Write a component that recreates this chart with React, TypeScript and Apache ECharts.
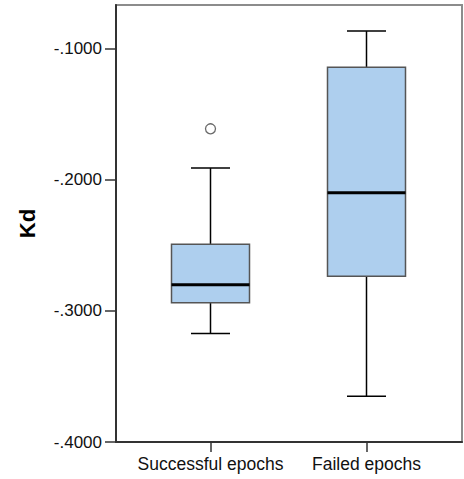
import React, { useEffect, useRef } from "react";
import * as echarts from "echarts";

const categories = ["Successful epochs", "Failed epochs"];
// [lower whisker, Q1, median, Q3, upper whisker]
const successfulBox = [-0.3172, -0.2938, -0.2801, -0.2491, -0.1911];
const failedBox = [-0.3651, -0.2735, -0.2099, -0.1141, -0.0866];
// [category index, value]
const outliers = [[0, -0.1611]];
const yTicks = [-0.4, -0.3, -0.2, -0.1];
const yMin = -0.4;
const yMax = -0.0667;
const yName = "Kd";

const FONT = "'Liberation Sans', Arial, sans-serif";

export default function App() {
  const ref = useRef<HTMLDivElement>(null);
  useEffect(() => {
    if (!ref.current) return;
    const chart = echarts.init(ref.current, undefined, { renderer: "svg" });
    const boxData = [
      [0, ...successfulBox],
      [1, ...failedBox],
    ];
    const fmt = (v: number) => v.toFixed(4).replace("-0.", "-.");
    chart.setOption({
      animation: false,
      backgroundColor: "#ffffff",
      grid: [
        { left: 116, right: 2, top: 5, bottom: 37, show: true, borderColor: "#8c8c8c", borderWidth: 2, backgroundColor: "transparent" },
        { left: 132.5, right: 19.5, top: 5, bottom: 37 },
      ],
      xAxis: [
        {
          gridIndex: 0,
          type: "value",
          min: 0,
          max: 1,
          axisLine: { show: true, onZero: false, lineStyle: { color: "#333", width: 2 } },
          axisTick: { show: false },
          axisLabel: { show: false },
          splitLine: { show: false },
        },
        {
          gridIndex: 1,
          type: "category",
          data: categories,
          boundaryGap: true,
          axisLine: { show: false },
          axisTick: { show: true, alignWithLabel: true, interval: 0, length: 10, lineStyle: { color: "#333", width: 1.5 } },
          axisLabel: { show: true, interval: 0, hideOverlap: false, margin: 13, fontSize: 17.5, fontFamily: FONT, color: "#111" },
          splitLine: { show: false },
        },
      ],
      yAxis: [
        {
          gridIndex: 0,
          type: "value",
          min: yMin,
          max: yMax,
          interval: 0.1,
          name: yName,
          nameLocation: "middle",
          nameRotate: 90,
          nameGap: 78,
          nameTextStyle: { fontSize: 22, fontWeight: "bold", fontFamily: FONT, color: "#000" },
          axisLine: { show: true, lineStyle: { color: "#333", width: 2 } },
          axisTick: { show: true, length: 11, customValues: yTicks, lineStyle: { color: "#333", width: 1.5 } },
          axisLabel: { show: true, margin: 14, customValues: yTicks, formatter: fmt, fontSize: 17, fontFamily: FONT, color: "#111" },
          splitLine: { show: false },
        },
        {
          gridIndex: 1,
          type: "value",
          min: yMin,
          max: yMax,
          show: false,
          splitLine: { show: false },
        },
      ],
      series: [
        {
          type: "custom",
          xAxisIndex: 1,
          yAxisIndex: 1,
          data: boxData,
          encode: { x: 0, y: [1, 2, 3, 4, 5] },
          renderItem: (params: any, api: any) => {
            const idx = api.value(0);
            const lo = api.coord([idx, api.value(1)]);
            const q1 = api.coord([idx, api.value(2)]);
            const md = api.coord([idx, api.value(3)]);
            const q3 = api.coord([idx, api.value(4)]);
            const hi = api.coord([idx, api.value(5)]);
            const band = api.size([1, 0])[0];
            const bw = band * 0.5;
            const cw = band * 0.25;
            const cx = md[0];
            const wStyle = { stroke: "#000", lineWidth: 1.5 };
            return {
              type: "group",
              children: [
                { type: "line", shape: { x1: cx, y1: hi[1], x2: cx, y2: q3[1] }, style: wStyle },
                { type: "line", shape: { x1: cx, y1: q1[1], x2: cx, y2: lo[1] }, style: wStyle },
                { type: "line", shape: { x1: cx - cw / 2, y1: hi[1], x2: cx + cw / 2, y2: hi[1] }, style: wStyle },
                { type: "line", shape: { x1: cx - cw / 2, y1: lo[1], x2: cx + cw / 2, y2: lo[1] }, style: wStyle },
                {
                  type: "rect",
                  shape: { x: cx - bw / 2, y: q3[1], width: bw, height: q1[1] - q3[1] },
                  style: { fill: "#aecfee", stroke: "#555", lineWidth: 1.5 },
                },
                { type: "line", shape: { x1: cx - bw / 2, y1: md[1], x2: cx + bw / 2, y2: md[1] }, style: { stroke: "#000", lineWidth: 3 } },
              ],
            };
          },
        },
        {
          type: "scatter",
          xAxisIndex: 1,
          yAxisIndex: 1,
          data: outliers,
          symbol: "circle",
          symbolSize: 10,
          itemStyle: { color: "#ffffff", borderColor: "#444", borderWidth: 1.3 },
        },
      ],
    });
    return () => chart.dispose();
  }, []);
  return <div ref={ref} style={{ position: "fixed", left: 0, top: 0, width: 464, height: 479 }} />;
}
